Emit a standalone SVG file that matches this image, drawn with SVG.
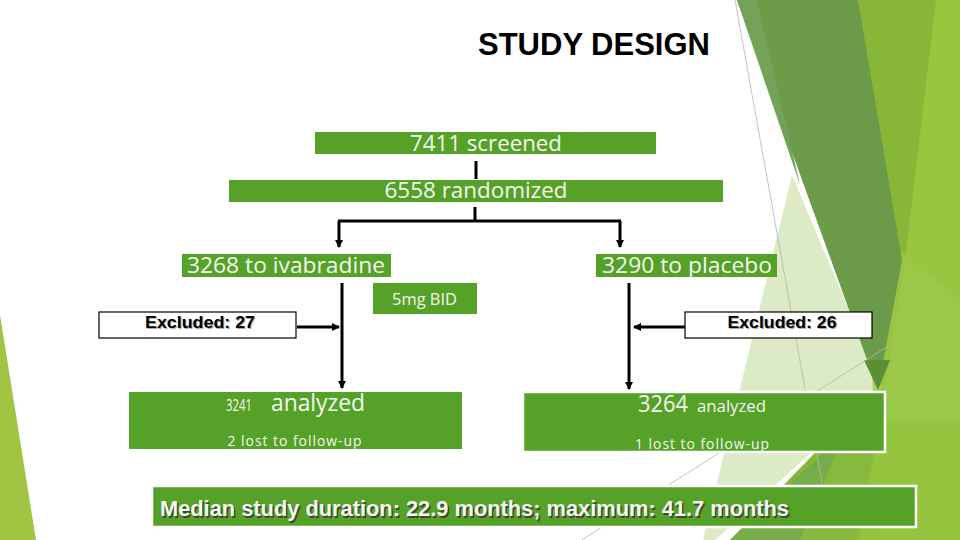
<svg xmlns="http://www.w3.org/2000/svg" width="960" height="540" viewBox="0 0 960 540">
<style>
.gbox{fill:#56a128}
.gtxt{fill:#f4f7f0;font-family:"Open Sans","Noto Sans",sans-serif;text-anchor:middle}
.exbox{fill:#ffffff;stroke:#000;stroke-width:1.2}
.extxt{font-family:"Liberation Sans",Arial,sans-serif;font-weight:bold;font-size:17px;text-anchor:middle;fill:#000}
.exsh{font-family:"Liberation Sans",Arial,sans-serif;font-weight:bold;font-size:17px;text-anchor:middle;fill:#a8a8a8}
.conn{stroke:#000;stroke-width:3;fill:none}
.faint{stroke:#b5b5b5;stroke-width:0.8;fill:none}
</style>
<defs>
<marker id="arr" markerUnits="userSpaceOnUse" markerWidth="9" markerHeight="9" refX="7" refY="4" orient="auto">
<path d="M0,0 L8,4 L0,8 z" fill="#000"/>
</marker>
</defs>
<rect width="960" height="540" fill="#ffffff"/>
<g id="background">
<polygon points="0,315 0,540 36,540" fill="#9fc543"/>
<polygon points="858,0 960,0 960,540 730,540 878,388" fill="#88b636"/>
<polygon points="936,0 960,0 960,540 860,540 905,260" fill="#98c63f"/>
<polygon points="792,175 882,388 715,540 703,540" fill="#dcebc6"/>
<polygon points="870,330 900,250 960,300 960,540 880,540" fill="#9cc84a" opacity="0.8"/>
<polygon points="737,0 858,0 902,260 878,390" fill="#6b9a48"/>
<polygon points="737,0 757,0 800,185" fill="#74a259"/>
<polygon points="864,360 890,360 878,390" fill="#5b8f33"/>
<polygon points="885,395 730,540 855,540" fill="#76ad48"/>
<polygon points="850,420 960,420 960,540 800,540" fill="#92c23a" opacity="0.6"/>
<line class="faint" x1="735" y1="0" x2="826" y2="505"/>
<line class="faint" x1="580" y1="541" x2="890" y2="345"/>
</g>
<g id="title">
<text x="594" y="55" font-family="Liberation Sans,Arial,sans-serif" font-weight="bold" font-size="31" text-anchor="middle" fill="#000">STUDY DESIGN</text>
</g>
<g id="connectors">
<line class="conn" x1="476" y1="161" x2="476" y2="179"/>
<path class="conn" d="M475,207 V221 M338,221 H621"/>
<line class="conn" x1="339" y1="221" x2="339" y2="247" marker-end="url(#arr)"/>
<line class="conn" x1="620" y1="221" x2="620" y2="247" marker-end="url(#arr)"/>
<line class="conn" x1="342" y1="283" x2="342" y2="388" marker-end="url(#arr)"/>
<line class="conn" x1="629" y1="283" x2="629" y2="389" marker-end="url(#arr)"/>
<line class="conn" x1="297" y1="327" x2="339" y2="327" marker-end="url(#arr)"/>
<line class="conn" x1="685" y1="327" x2="634" y2="327" marker-end="url(#arr)"/>
</g>
<g id="screened">
<rect class="gbox" x="315" y="132" width="341" height="22"/>
<text class="gtxt" x="486" y="151" font-size="22" textLength="152" lengthAdjust="spacingAndGlyphs">7411 screened</text>
</g>
<g id="randomized">
<rect class="gbox" x="229" y="180" width="494" height="22"/>
<text class="gtxt" x="476" y="198" font-size="22" textLength="183" lengthAdjust="spacingAndGlyphs">6558 randomized</text>
</g>
<g id="ivabradine">
<rect class="gbox" x="182" y="254" width="209" height="23"/>
<text class="gtxt" x="286" y="273" font-size="22" textLength="198" lengthAdjust="spacingAndGlyphs">3268 to ivabradine</text>
</g>
<g id="placebo">
<rect class="gbox" x="596" y="254" width="181" height="23"/>
<text class="gtxt" x="687" y="273" font-size="22" textLength="170" lengthAdjust="spacingAndGlyphs">3290 to placebo</text>
</g>
<g id="dose">
<rect class="gbox" x="373" y="283" width="104" height="31"/>
<text class="gtxt" x="424.5" y="305" font-size="17" textLength="65" lengthAdjust="spacingAndGlyphs">5mg BID</text>
</g>
<g id="excluded27">
<rect class="exbox" x="99" y="312" width="197" height="26"/>
<text class="exsh" x="201" y="329" textLength="110" lengthAdjust="spacingAndGlyphs">Excluded: 27</text>
<text class="extxt" x="200" y="328" textLength="110" lengthAdjust="spacingAndGlyphs">Excluded: 27</text>
</g>
<g id="excluded26">
<rect class="exbox" x="685" y="312" width="187" height="26"/>
<text class="exsh" x="783" y="329" textLength="109" lengthAdjust="spacingAndGlyphs">Excluded: 26</text>
<text class="extxt" x="782" y="328" textLength="109" lengthAdjust="spacingAndGlyphs">Excluded: 26</text>
</g>
<g id="analyzed-ivabradine">
<rect class="gbox" x="128" y="391" width="335" height="59" stroke="#ffffff" stroke-width="2"/>
<text class="gtxt" font-size="16" style="text-anchor:start"><tspan x="226" y="411" textLength="26" lengthAdjust="spacingAndGlyphs">3241</tspan><tspan x="271" y="411" font-size="23" textLength="94" lengthAdjust="spacingAndGlyphs">analyzed</tspan></text>
<text class="gtxt" x="295" y="446" font-size="14" letter-spacing="1" textLength="135" lengthAdjust="spacingAndGlyphs">2 lost to follow-up</text>
</g>
<g id="analyzed-placebo">
<rect class="gbox" x="523" y="392" width="362" height="60" stroke="#ffffff" stroke-width="2.5"/>
<text class="gtxt" font-size="23" style="text-anchor:start"><tspan x="638" y="412" textLength="50" lengthAdjust="spacingAndGlyphs">3264</tspan><tspan x="697" y="412" font-size="16" textLength="69" lengthAdjust="spacingAndGlyphs">analyzed</tspan></text>
<text class="gtxt" x="702.5" y="449" font-size="14" letter-spacing="1" textLength="135" lengthAdjust="spacingAndGlyphs">1 lost to follow-up</text>
</g>
<g id="duration">
<rect class="gbox" x="152" y="486" width="764" height="41" stroke="#ffffff" stroke-width="2.5"/>
<text x="161.5" y="517.5" font-family="Liberation Sans Narrow,Liberation Sans,sans-serif" font-weight="bold" font-size="22" fill="#2a2a2a" opacity="0.7" textLength="629" lengthAdjust="spacingAndGlyphs">Median study duration: 22.9 months; maximum: 41.7 months</text>
<text x="160" y="516" font-family="Liberation Sans Narrow,Liberation Sans,sans-serif" font-weight="bold" font-size="22" fill="#f4f7f0" textLength="629" lengthAdjust="spacingAndGlyphs">Median study duration: 22.9 months; maximum: 41.7 months</text>
</g>
</svg>
